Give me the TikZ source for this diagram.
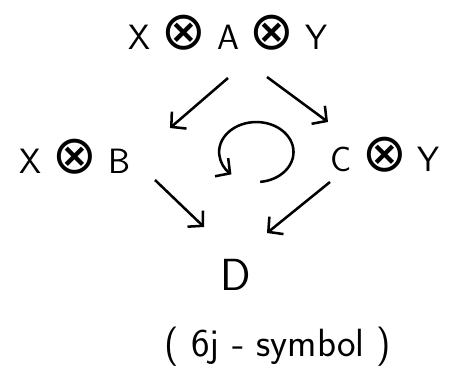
\documentclass[tikz,border=0pt]{standalone}
\usepackage{fontspec}
\newfontfamily\symfont{DejaVu Sans}
\usetikzlibrary{arrows.meta}

\newcommand{\ot}{{\symfont\fontsize{38}{38}\selectfont ⊗}}

\tikzset{
  lbl/.style={font=\sffamily\fontsize{25}{30}\selectfont, inner sep=0pt},
  arr/.style={-{Straight Barb[length=2.6mm,width=5.6mm]}, line width=1.8pt},
}

\begin{document}
\begin{tikzpicture}[scale=1.0]
\useasboundingbox (0,0) rectangle (11.425,9.225);

\node[lbl] (top) at (5.7,8.4) {X \ot{} A \ot{} Y};
\node[lbl] (left) at (1.875,5.3) {X \ot{} B};
\node[lbl] (right) at (9.625,5.35) {C \ot{} Y};
\node[lbl,font=\sffamily\fontsize{32}{36}\selectfont] (bot) at (5.9,2.35) {D};
\node[lbl,font=\sffamily\fontsize{28}{32}\selectfont] (name) at (6.95,0.55) {( 6j - symbol )};

\draw[arr] ([shift={(0,-1.125)}]top.center) -- ([shift={(2.375,0.725)}]left.center);
\draw[arr] ([shift={(0.975,-1.1)}]top.center) -- ([shift={(-1.425,0.825)}]right.center);
\draw[arr] ([shift={(2.0,-0.575)}]left.center) -- ([shift={(-0.8,1.2)}]bot.center);
\draw[arr] ([shift={(-1.375,-0.675)}]right.center) -- ([shift={(0.775,1.05)}]bot.center);

\coordinate (cyc) at (6.425,5.425);
\draw[arr] ([shift={(0.08,-0.747)}]cyc) arc[start angle=-84, end angle=228, x radius=0.93, y radius=0.75];
\end{tikzpicture}
\end{document}
